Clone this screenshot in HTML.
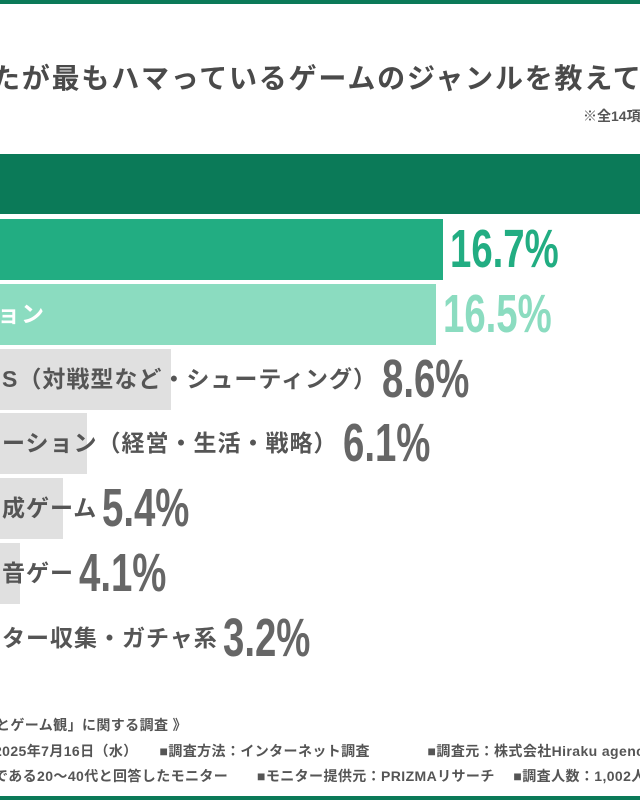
<!DOCTYPE html>
<html><head><meta charset="utf-8"><style>
body{margin:0;width:640px;height:800px;overflow:hidden;background:#fff;position:relative;font-family:"Liberation Sans","Noto Sans CJK JP",sans-serif;}
.abs{position:absolute;}
.clip{position:absolute;overflow:hidden;white-space:nowrap;}
.lbl{position:absolute;white-space:nowrap;font-size:23px;line-height:23px;letter-spacing:1px;font-weight:bold;color:#555;}
.val{position:absolute;white-space:nowrap;font-family:"Liberation Sans",sans-serif;font-weight:bold;font-size:54px;line-height:54px;color:#666;transform:scaleX(0.71);transform-origin:0 0;}
.foot{font-size:14px;font-weight:bold;color:#555;letter-spacing:0.4px;}
</style></head><body>
<div class="abs" style="left:0;top:0;width:640px;height:4px;background:#0b7a58"></div>
<div class="clip" style="left:0;top:62px;width:640px;font-size:28px;line-height:34px;font-weight:bold;color:#4a4a4a;letter-spacing:1.8px"><span style="margin-left:-8px">たが最もハマっているゲームのジャンルを教えてください</span></div>
<div class="clip" style="left:583px;top:106px;width:57px;font-size:14px;font-weight:bold;color:#555">※全14項目</div>
<div class="abs" style="left:0;top:154px;width:640px;height:60px;background:#0b7a58"></div>
<div id="chart" class="clip" style="left:0;top:0;width:640px;height:800px"></div>
<div class="clip foot" style="left:0;top:715px;width:640px"><span style="margin-left:-4px">とゲーム観」に関する調査 》</span></div>
<div class="clip foot" style="left:0;top:741px;width:640px"><span style="margin-left:-6px">2025年7月16日（水）　　■調査方法：インターネット調査　　　　■調査元：株式会社Hiraku agency</span></div>
<div class="clip foot" style="left:0;top:766px;width:640px"><span style="margin-left:-6px">である20〜40代と回答したモニター　　■モニター提供元：PRIZMAリサーチ　 ■調査人数：1,002人</span></div>
<div class="abs" style="left:0;top:796px;width:640px;height:4px;background:#0b7a58"></div>
<script>
const categories=["","ョン","S（対戦型など・シューティング）","ーション（経営・生活・戦略）","成ゲーム","音ゲー","ター収集・ガチャ系"];
const values=[16.7,16.5,8.6,6.1,5.4,4.1,3.2];
const valueLabels=["16.7%","16.5%","8.6%","6.1%","5.4%","4.1%","3.2%"];
function xScale(v){return -118+33.6*v;}
function yRow(i){return 219+i*64.8;}
const barColors=["#22ad82","#8bdcc0","#e0e0e0","#e0e0e0","#e0e0e0","#e0e0e0","#e0e0e0"];
const valColors=["#22ad82","#8bdcc0","#666","#666","#666","#666","#666"];
const chart=document.getElementById('chart');
const meas=document.createElement('span');
meas.style.cssText='position:absolute;visibility:hidden;white-space:nowrap;font-size:23px;letter-spacing:1px;font-weight:bold;font-family:"Liberation Sans","Noto Sans CJK JP",sans-serif';
document.body.appendChild(meas);
for(let i=0;i<values.length;i++){
  const y=yRow(i), w=Math.max(0,xScale(values[i]));
  const bar=document.createElement('div');
  
  
  bar.style.cssText='position:absolute;left:0;top:'+y+'px;height:61px;width:'+w+'px;background:'+barColors[i];
  chart.appendChild(bar);
  meas.textContent=categories[i];
  const lw=categories[i]?meas.offsetWidth:0;
  let lx=i<2?-3:2, vx;
  if(i<2){vx=w+7;}
  else{vx=lx+lw+5;}
  const lbl=document.createElement('div');
  
  
  lbl.className='lbl';
  lbl.textContent=categories[i];
  lbl.style.left=lx+'px';
  lbl.style.top=(y+19)+'px';
  if(i<2)lbl.style.color='#fff';
  chart.appendChild(lbl);
  const val=document.createElement('div');
  
  
  val.className='val';
  val.textContent=valueLabels[i];
  val.style.left=vx+'px';
  val.style.top=(y+3)+'px';
  val.style.color=valColors[i];
  chart.appendChild(val);
}
</script>
</body></html>
